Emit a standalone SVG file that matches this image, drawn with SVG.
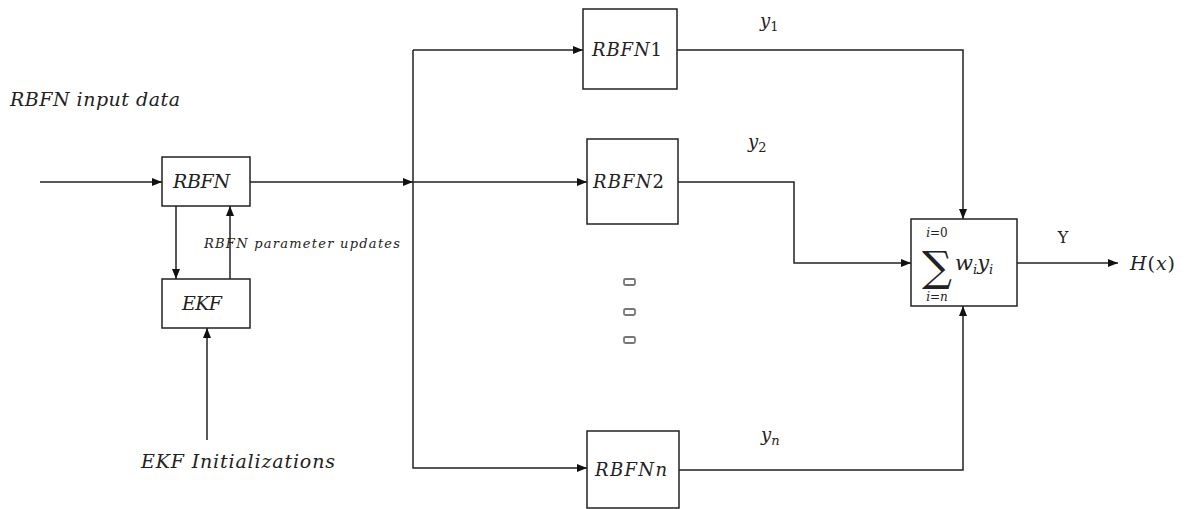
<svg xmlns="http://www.w3.org/2000/svg" width="1189" height="509" viewBox="0 0 1189 509">
<style>
.box{fill:#fff;stroke:#222;stroke-width:1.5}
.ln{fill:none;stroke:#222;stroke-width:1.5}
.t{font-family:"DejaVu Serif","Liberation Serif",serif;font-style:italic;fill:#222}
.u{font-family:"DejaVu Serif","Liberation Serif",serif;fill:#222}
.dot{fill:#fff;stroke:#777;stroke-width:1.8}
</style>
<defs>
<marker id="ah" markerWidth="10" markerHeight="8" refX="10" refY="4" orient="auto" markerUnits="userSpaceOnUse">
<path d="M0,0 L10,4 L0,8 Z" fill="#111"/>
</marker>
</defs>
<rect width="1189" height="509" fill="#fff"/>
<g id="connectors">
<line class="ln" x1="40" y1="182" x2="162" y2="182" marker-end="url(#ah)"/>
<line class="ln" x1="176" y1="206" x2="176" y2="279" marker-end="url(#ah)"/>
<line class="ln" x1="230" y1="279" x2="230" y2="206" marker-end="url(#ah)"/>
<line class="ln" x1="207" y1="440" x2="207" y2="328" marker-end="url(#ah)"/>
<line class="ln" x1="250" y1="182" x2="413" y2="182" marker-end="url(#ah)"/>
<polyline class="ln" points="413,50 413,468 587,468" marker-end="url(#ah)"/>
<line class="ln" x1="413" y1="50" x2="583" y2="50" marker-end="url(#ah)"/>
<line class="ln" x1="413" y1="182" x2="587" y2="182" marker-end="url(#ah)"/>
<polyline class="ln" points="677,50 963,50 963,219" marker-end="url(#ah)"/>
<polyline class="ln" points="678,182 794,182 794,263 911,263" marker-end="url(#ah)"/>
<polyline class="ln" points="679,470 963,470 963,306" marker-end="url(#ah)"/>
<line class="ln" x1="1017" y1="263" x2="1118" y2="263" marker-end="url(#ah)"/>
</g>
<g id="rbfn">
<rect class="box" x="162" y="157" width="88" height="49"/>
<text class="t" x="173" y="188" font-size="19" textLength="57" lengthAdjust="spacing">RBFN</text>
</g>
<g id="ekf">
<rect class="box" x="162" y="279" width="88" height="49"/>
<text class="t" x="182" y="310" font-size="19" textLength="40" lengthAdjust="spacing">EKF</text>
</g>
<g id="rbfn1">
<rect class="box" x="583" y="9" width="94" height="80"/>
<text class="t" x="592" y="56" font-size="18" textLength="70" lengthAdjust="spacing">RBFN<tspan font-style="normal">1</tspan></text>
</g>
<g id="rbfn2">
<rect class="box" x="587" y="139" width="91" height="85"/>
<text class="t" x="593" y="188" font-size="18" textLength="71" lengthAdjust="spacing">RBFN<tspan font-style="normal">2</tspan></text>
</g>
<g id="rbfnn">
<rect class="box" x="587" y="431" width="92" height="77"/>
<text class="t" x="595" y="476" font-size="18" textLength="72" lengthAdjust="spacing">RBFNn</text>
</g>
<g id="sum">
<rect class="box" x="911" y="219" width="106" height="87"/>
<text class="t" x="937" y="237" font-size="12" text-anchor="middle">i<tspan font-style="normal">=0</tspan></text>
<text class="u" x="937" y="281" font-size="42" text-anchor="middle">∑</text>
<text class="t" x="937" y="301" font-size="12" text-anchor="middle">i<tspan font-style="normal">=</tspan>n</text>
<text class="t" x="955" y="270" font-size="21">w<tspan font-size="13" dy="4">i</tspan><tspan dy="-4">y</tspan><tspan font-size="13" dy="4">i</tspan></text>
</g>
<g id="dots">
<rect class="dot" x="624" y="279" width="11" height="6" rx="1.5"/>
<rect class="dot" x="624" y="309" width="11" height="6" rx="1.5"/>
<rect class="dot" x="624" y="337" width="11" height="6" rx="1.5"/>
</g>
<g id="labels">
<text class="t" x="10" y="106" font-size="19" textLength="170" lengthAdjust="spacing">RBFN input data</text>
<text class="t" x="204" y="248" font-size="13" textLength="196" lengthAdjust="spacing">RBFN parameter updates</text>
<text class="t" x="141" y="468" font-size="19" textLength="194" lengthAdjust="spacing">EKF Initializations</text>
<text class="t" x="760" y="27" font-size="18">y<tspan font-style="normal" font-size="13" dy="4">1</tspan></text>
<text class="t" x="748" y="148" font-size="18">y<tspan font-style="normal" font-size="13" dy="4">2</tspan></text>
<text class="t" x="761" y="441" font-size="18">y<tspan font-size="13" dy="4">n</tspan></text>
<text class="u" x="1063" y="243" font-size="16" text-anchor="middle">Y</text>
<text class="t" x="1130" y="270" font-size="19" textLength="45" lengthAdjust="spacing">H<tspan font-style="normal">(</tspan>x<tspan font-style="normal">)</tspan></text>
</g>
</svg>
